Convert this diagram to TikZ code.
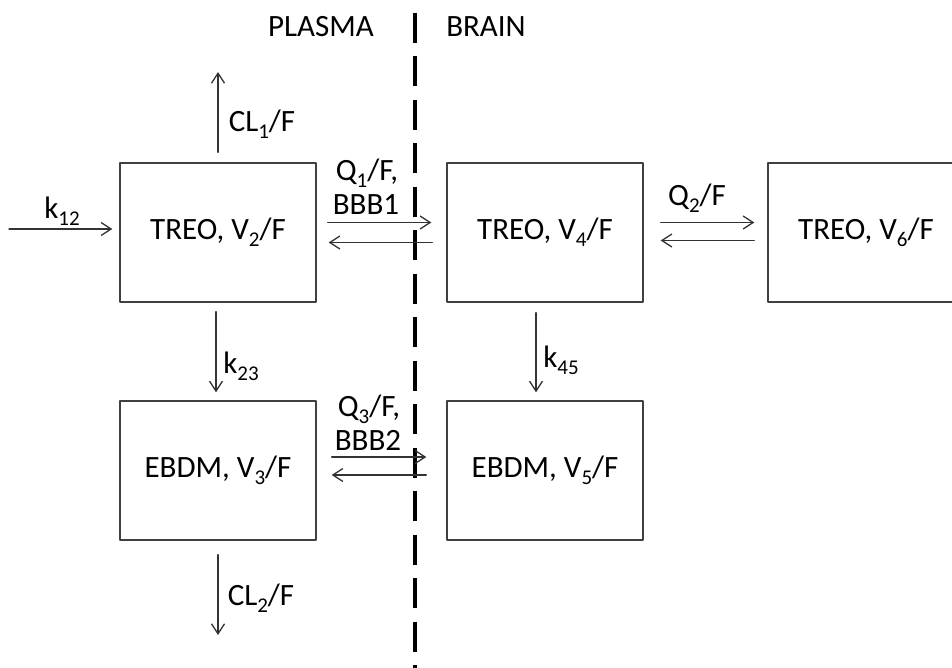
\documentclass[tikz,border=0pt]{standalone}
\usepackage{fontspec}
\setmainfont{Carlito}
\usetikzlibrary{arrows.meta}
\newcommand{\lo}[1]{\raisebox{-0.22em}{\fontsize{21}{21}\selectfont #1}}
\begin{document}
\begin{tikzpicture}[x=1pt,y=-1pt,line join=round,line cap=round,
	>={Straight Barb[length=10pt,width=13pt]},
	font=\fontsize{31}{36}\selectfont,
	box/.style={draw=black!75,line width=1.4pt,minimum width=196pt,minimum height=139pt,inner sep=0pt},
	flow/.style={->,draw=black!80,line width=1.3pt},
	barrier/.style={line width=4pt,line cap=butt,dash pattern=on 30pt off 13.5pt}]
	
	\useasboundingbox (0,0) rectangle (952,668);
	
	% compartments
	\node[box] (treoP) at (218,232.5) {TREO, V\lo{2}/F};
	\node[box] (treoB) at (545,232.5) {TREO, V\lo{4}/F};
	\node[box] (treoC) at (866,232.5) {TREO, V\lo{6}/F};
	\node[box] (ebdmP) at (218,470.5) {EBDM, V\lo{3}/F};
	\node[box] (ebdmB) at (545,470.5) {EBDM, V\lo{5}/F};
	
	% plasma / brain
	\draw[barrier] (415,12.7) -- (415,668);
	\node (plasma) at (321,27) {PLASMA};
	\node (brain) at (486,27) {BRAIN};
	
	% input and elimination
	\coordinate (dose) at (9,229);
	\coordinate (cl1) at (218,72);
	\coordinate (cl2) at (218,635);
	\draw[flow,shorten >=7pt] (dose) -- (dose -| treoP.west);
	\draw[flow,shorten <=10pt] (treoP.north) -- (cl1);
	\draw[flow,shorten <=14pt] (ebdmP.south) -- (cl2);
	\node (k12) at (62,211) {k\lo{12}};
	\node (cl1lab) at (262,124) {CL\lo{1}/F};
	\node (cl2lab) at (261,598) {CL\lo{2}/F};
	
	% exchange
	\draw[flow,shorten <=11pt,shorten >=15pt] ([yshift=10pt]treoP.east) -- ([yshift=10pt]treoB.west);
	\draw[flow,shorten <=14pt,shorten >=12pt] ([yshift=-10pt]treoB.west) -- ([yshift=-10pt]treoP.east);
	\node (q1) at (367,173) {Q\lo{1}/F,};
	\node (bbb1) at (366,205) {BBB1};
	
	\draw[flow,shorten <=17pt,shorten >=13pt] ([yshift=10pt]treoB.east) -- ([yshift=10pt]treoC.west);
	\draw[flow,shorten <=13pt,shorten >=17pt] ([yshift=-8pt]treoC.west) -- ([yshift=-8pt]treoB.east);
	\node (q2) at (697,198) {Q\lo{2}/F};
	
	\draw[flow,shorten <=15pt,shorten >=20pt] ([yshift=13.5pt]ebdmP.east) -- ([yshift=13.5pt]ebdmB.west);
	\draw[flow,shorten <=20pt,shorten >=15pt] ([yshift=-4.5pt]ebdmB.west) -- ([yshift=-4.5pt]ebdmP.east);
	\node (q3) at (369,409) {Q\lo{3}/F,};
	\node (bbb2) at (368,440) {BBB2};
	
	% metabolism
	\draw[flow,shorten <=9pt,shorten >=8pt] ([xshift=-2pt]treoP.south) -- ([xshift=-2pt]ebdmP.north);
	\draw[flow,shorten <=10pt,shorten >=8pt] ([xshift=-9pt]treoB.south) -- ([xshift=-9pt]ebdmB.north);
	\node (k23) at (241,366) {k\lo{23}};
	\node (k45) at (561,360) {k\lo{45}};
\end{tikzpicture}
\end{document}
